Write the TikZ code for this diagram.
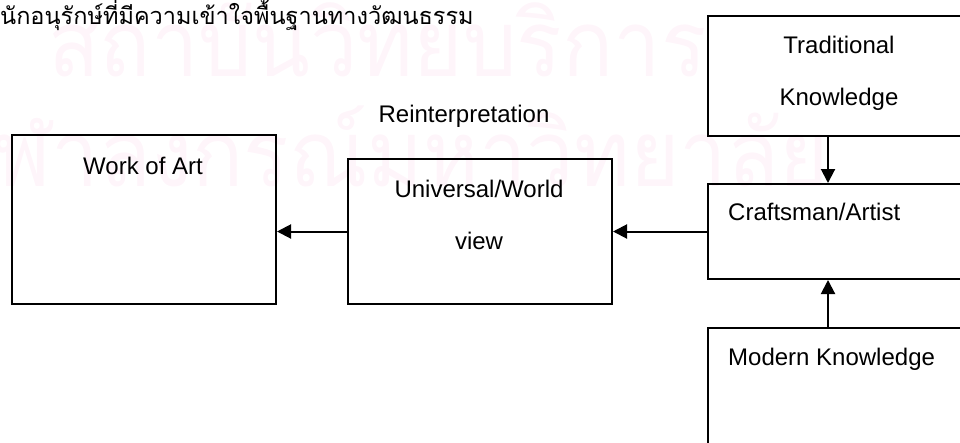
\documentclass[tikz,border=0pt]{standalone}
\usepackage{graphicx}
\usepackage{fontspec}
\setmainfont{Liberation Sans}
\newfontfamily\thaifont[Script=Thai]{Loma}
\usetikzlibrary{arrows.meta}

\definecolor{markcolor}{RGB}{254,245,250}

\tikzset{
  box/.style={draw, line width=2pt, minimum width=264pt, inner sep=0pt},
  txt/.style={font=\fontsize{24}{24}\selectfont, inner sep=0pt},
  stamptext/.style={anchor=base west, markcolor, inner sep=0pt, font=\thaifont\fontsize{92}{92}\selectfont},
  arr/.style={line width=2pt, -{Triangle[length=14pt,width=14pt]}},
}

\begin{document}
\begin{tikzpicture}[x=1pt, y=-1pt]
    \useasboundingbox (0,0) rectangle (960,442);

    % --- watermark ---
    \node[stamptext] (markA) at (48,76) {\scalebox{0.92}[1]{สถาบันวิทยบริการ}};
    \node[stamptext] (markB) at (-56,186) {\scalebox{0.92}[1]{จุฬาลงกรณ์มหาวิทยาลัย}};

    % --- heading ---
    \node[anchor=base west, inner sep=0pt, font=\thaifont\fontsize{23.5}{23.5}\selectfont] (heading) at (0,24) {นักอนุรักษ์ที่มีความเข้าใจพื้นฐานทางวัฒนธรรม};

    % --- boxes ---
    \node[box, minimum height=120pt, anchor=north west] (trad) at (707,15) {};
    \node[box, minimum height=95pt, anchor=north west] (craft) at (707,183) {};
    \node[box, minimum height=150pt, anchor=north west] (modern) at (707,327) {};
    \node[box, minimum height=145pt, anchor=north west] (univ) at (347,158) {};
    \node[box, minimum height=169pt, anchor=north west] (work) at (11,134) {};

    % --- texts ---
    \node[txt, anchor=mid] (tradA) at (839,51) {Traditional};
    \node[txt, anchor=mid] (tradB) at (839,103) {Knowledge};
    \node[txt, anchor=mid west] (craftlabel) at (728,218) {Craftsman/Artist};
    \node[txt, anchor=mid west] (modernlabel) at (728,363) {Modern Knowledge};
    \node[txt, anchor=mid] (univA) at (479,195) {Universal/World};
    \node[txt, anchor=mid] (univB) at (479,247) {view};
    \node[txt, anchor=mid] (worklabel) at (143,172) {Work of Art};
    \node[txt, anchor=mid] (reinterp) at (464,120) {Reinterpretation};

    % --- arrows ---
    \draw[arr] ([xshift=121pt]trad.south west) -- ([xshift=121pt]craft.north west);
    \draw[arr] ([xshift=121pt]modern.north west) -- ([xshift=121pt]craft.south west);
    \draw[arr] (craft.west) -- (univ.east);
    \draw[arr] (univ.west) -- (work.east |- univ.west);

\end{tikzpicture}
\end{document}
